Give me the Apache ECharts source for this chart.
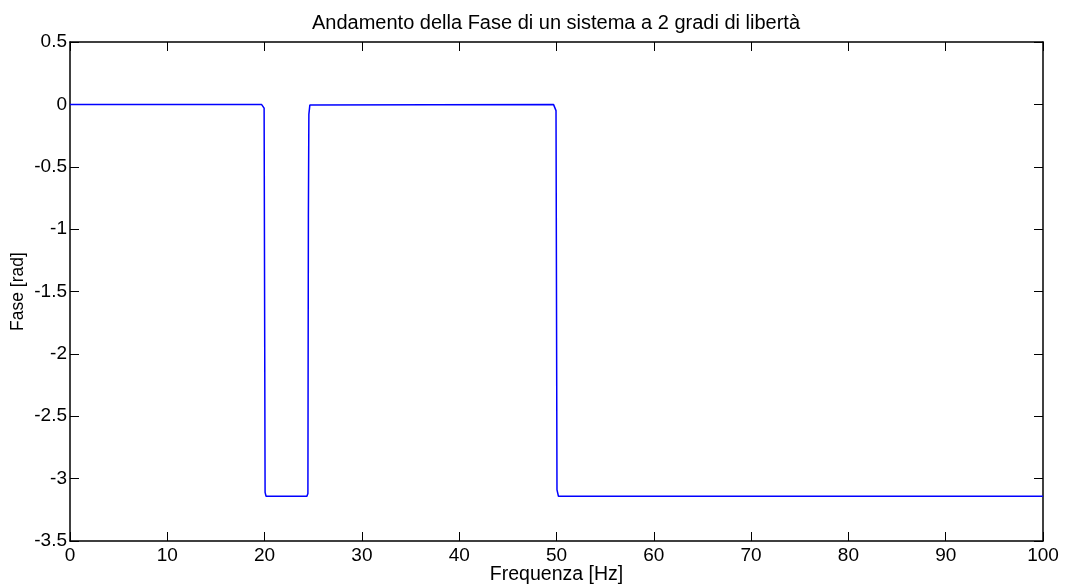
<!DOCTYPE html>
<html>
<head>
<meta charset="utf-8">
<style>
  html, body { margin: 0; padding: 0; background: #fff; }
  #chart { width: 1066px; height: 588px; }
</style>
<script src="https://cdn.jsdelivr.net/npm/echarts@6/dist/echarts.min.js"></script>
</head>
<body>
<div id="chart"></div>
<script>
// Phase response of a 2-DOF system: frequency [Hz] and phase [rad]
const freq = [0, 19.7, 19.85, 19.95, 20.05, 20.15, 24.35, 24.45, 24.5, 24.55, 24.65, 49.7, 49.85, 49.95, 50.05, 50.2, 100];
const phase = [0, -0.002, -0.008, -0.03, -3.11, -3.1416, -3.1416, -3.12, -0.9, -0.08, -0.006, -0.002, -0.01, -0.05, -3.09, -3.1416, -3.1416];

const xTicks = { min: 0, max: 100, interval: 10 };
const yTicks = { min: -3.5, max: 0.5, interval: 0.5 };

const titleText = 'Andamento della Fase di un sistema a 2 gradi di libertà';
const xName = 'Frequenza [Hz]';
const yName = 'Fase [rad]';

const points = freq.map((f, i) => [f, phase[i]]);

const FONT = 'Liberation Sans, Arial, sans-serif';
const frameLine = { show: true, onZero: false, lineStyle: { color: '#000', width: 1.5 } };
const innerTick = { show: true, inside: true, length: 9, lineStyle: { color: '#000', width: 1 } };

const chart = echarts.init(document.getElementById('chart'), null, { renderer: 'canvas' });
chart.setOption({
  animation: false,
  backgroundColor: '#fff',
  title: {
    text: titleText,
    left: 551,
    textAlign: 'center',
    top: 8,
    textStyle: { fontFamily: FONT, fontSize: 20, fontWeight: 'normal', color: '#000' }
  },
  grid: { left: 70, right: 23, top: 42, bottom: 47, containLabel: false, outerBoundsMode: 'none' },
  xAxis: [
    {
      type: 'value', position: 'bottom', ...xTicks,
      name: xName, nameLocation: 'middle', nameGap: 24, nameMoveOverlap: false,
      nameTextStyle: { fontFamily: FONT, fontSize: 19.5, color: '#000' },
      axisLine: frameLine, axisTick: innerTick,
      axisLabel: { color: '#000', fontFamily: FONT, fontSize: 19, margin: 5 },
      splitLine: { show: false }
    },
    {
      type: 'value', position: 'top', ...xTicks,
      axisLine: frameLine, axisTick: innerTick,
      axisLabel: { show: false }, splitLine: { show: false }
    }
  ],
  yAxis: [
    {
      type: 'value', position: 'left', ...yTicks,
      name: yName, nameLocation: 'middle', nameGap: 43, nameMoveOverlap: false,
      nameTextStyle: { fontFamily: FONT, fontSize: 17.5, color: '#000' },
      axisLine: frameLine, axisTick: innerTick,
      axisLabel: { color: '#000', fontFamily: FONT, fontSize: 19, margin: 3 },
      splitLine: { show: false }
    },
    {
      type: 'value', position: 'right', ...yTicks,
      axisLine: frameLine, axisTick: innerTick,
      axisLabel: { show: false }, splitLine: { show: false }
    }
  ],
  series: [
    {
      type: 'line',
      data: points,
      showSymbol: false,
      smooth: false,
      lineStyle: { color: '#0000ff', width: 1.5 },
      xAxisIndex: 0, yAxisIndex: 0
    }
  ]
});
</script>
</body>
</html>
